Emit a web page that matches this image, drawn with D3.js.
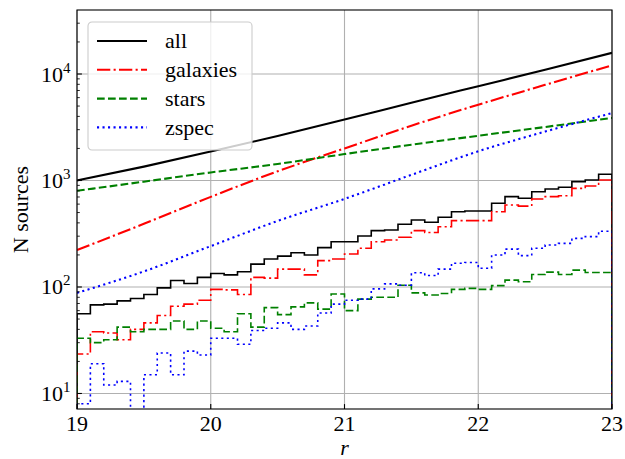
<!DOCTYPE html>
<html>
<head>
<meta charset="utf-8">
<script src="https://cdn.jsdelivr.net/npm/d3@7"></script>
<style>
  body { margin: 0; background: #fff; }
</style>
</head>
<body>
<svg id="chart" width="625" height="459"></svg>
<script>
// Cumulative source counts N(<r), sampled every half magnitude
const curveMags = [19, 19.5, 20, 20.5, 21, 21.5, 22, 22.5, 23];
const cumAll      = [1000, 1350, 1870, 2620, 3730, 5370, 7680, 10970, 15800];
const cumGalaxies = [222, 392, 702, 1220, 2000, 3270, 5150, 7910, 12070];
const cumStars    = [800, 975, 1190, 1430, 1770, 2170, 2630, 3180, 3870];
const cumZspec    = [88, 140, 242, 417, 672, 1130, 1880, 2880, 4300];

// Differential counts in 0.1 mag bins from r = 19 to 23
const binStart = 19, binWidth = 0.1;
const histAll = [56, 68, 69, 74, 78, 85, 98, 115, 108, 123, 134, 130, 139, 164, 183, 195, 210, 200, 234, 266,
                 266, 301, 338, 343, 388, 426, 405, 451, 509, 517, 517, 611, 705, 681, 785, 832, 863, 975, 1011, 1143];
const histGalaxies = [23.5, 38, 37, 32, 40, 46, 54, 66, 69, 75, 95, 94, 85, 123, 121, 147, 147, 130, 177, 183,
                      204, 231, 266, 276, 293, 338, 325, 368, 420, 420, 420, 509, 589, 575, 670, 705, 720, 843, 887, 1011];
const histStars = [33, 30, 32, 42, 38, 40, 40, 48, 40, 48, 41, 38, 56, 42, 64, 55, 65, 71, 62, 86,
                   60, 77, 80, 80, 104, 88, 84, 87, 95, 97, 95, 103, 116, 112, 131, 138, 131, 144, 137, 137];
const histZspec = [8, 19, 12, 13, 0, 15, 24, 15, 25, 23, 33, 33, 29, 39, 41, 46, 40, 43, 57, 69,
                   75, 77, 96, 107, 104, 136, 128, 147, 167, 170, 150, 200, 227, 197, 231, 248, 257, 286, 297, 334];

const seriesNames = ["all", "galaxies", "stars", "zspec"];
const xTicks = [19, 20, 21, 22, 23];
const yTicks = [10, 100, 1000, 10000];

const FONT = '"Liberation Serif", Tinos, "Times New Roman", "DejaVu Serif", "Noto Serif", serif';

// Line styles (pixels)
const styles = {
  all:      { color: "#000000", dash: null },
  galaxies: { color: "#ff0000", dash: "13.3,3.3,2.1,3.3" },
  stars:    { color: "#008000", dash: "7.7,3.3" },
  zspec:    { color: "#0000ff", dash: "2.1,3.4" }
};

const svg = d3.select("#chart");
const margin = { left: 77, top: 10, right: 13, bottom: 50 };
const W = 625 - margin.left - margin.right;   // 535
const H = 459 - margin.top - margin.bottom;   // 399

const x = d3.scaleLinear().domain([19, 23]).range([0, W]);
const y = d3.scaleLog().domain([7.15, 39900]).range([H, 0]);

const g = svg.append("g").attr("transform", `translate(${margin.left},${margin.top})`);

g.append("defs").append("clipPath").attr("id", "plotClip")
  .append("rect").attr("x", 0).attr("y", 0).attr("width", W).attr("height", H);

// Grid
const grid = g.append("g").attr("stroke", "#b0b0b0").attr("stroke-width", 1.1);
xTicks.forEach(t => grid.append("line").attr("x1", x(t)).attr("x2", x(t)).attr("y1", 0).attr("y2", H));
yTicks.forEach(t => grid.append("line").attr("x1", 0).attr("x2", W).attr("y1", y(t)).attr("y2", y(t)));

const plot = g.append("g").attr("clip-path", "url(#plotClip)");

// Smooth cumulative curves
const curveLine = d3.line()
  .x(d => x(d[0]))
  .y(d => y(d[1]))
  .curve(d3.curveMonotoneX);

const cumData = { all: cumAll, galaxies: cumGalaxies, stars: cumStars, zspec: cumZspec };
seriesNames.forEach(name => {
  const pts = curveMags.map((m, i) => [m, cumData[name][i]]);
  plot.append("path")
    .attr("d", curveLine(pts))
    .attr("fill", "none")
    .attr("stroke", styles[name].color)
    .attr("stroke-width", 2.08)
    .attr("stroke-dasharray", styles[name].dash);
});

// Step histograms
const histData = { all: histAll, galaxies: histGalaxies, stars: histStars, zspec: histZspec };
const yVal = v => v > 0 ? y(v) : H + 40;
seriesNames.forEach(name => {
  const vals = histData[name];
  const pts = [[x(binStart), H + 40]];
  vals.forEach((v, i) => {
    const x0 = x(binStart + i * binWidth), x1 = x(binStart + (i + 1) * binWidth);
    pts.push([x0, yVal(v)]);
    pts.push([x1, yVal(v)]);
  });
  pts.push([x(binStart + vals.length * binWidth), H + 40]);
  plot.append("path")
    .attr("d", d3.line()(pts))
    .attr("fill", "none")
    .attr("stroke", styles[name].color)
    .attr("stroke-width", 1.6)
    .attr("stroke-linejoin", "miter")
    .attr("stroke-dasharray", styles[name].dash);
});

// Ticks (pointing inward)
const ticks = g.append("g").attr("stroke", "#000");
xTicks.forEach(t => ticks.append("line").attr("x1", x(t)).attr("x2", x(t))
  .attr("y1", H).attr("y2", H - 4.9).attr("stroke-width", 1.1));
yTicks.forEach(t => ticks.append("line").attr("x1", 0).attr("x2", 4.9)
  .attr("y1", y(t)).attr("y2", y(t)).attr("stroke-width", 1.1));
const [yMin, yMax] = y.domain();
for (let e = 0; e <= 4; e++) {
  for (let k = 2; k <= 9; k++) {
    const v = k * Math.pow(10, e);
    if (v >= yMin && v <= yMax) {
      ticks.append("line").attr("x1", 0).attr("x2", 2.8)
        .attr("y1", y(v)).attr("y2", y(v)).attr("stroke-width", 0.85);
    }
  }
}

// Axes frame
g.append("rect").attr("x", 0).attr("y", 0).attr("width", W).attr("height", H)
  .attr("fill", "none").attr("stroke", "#000").attr("stroke-width", 1.1);

// Tick labels
xTicks.forEach(t => g.append("text")
  .style("font-family", FONT)
  .attr("x", x(t)).attr("y", H + 22)
  .attr("text-anchor", "middle").style("font-size", "22px")
  .text(t));

yTicks.forEach(t => {
  const txt = g.append("text")
    .style("font-family", FONT)
    .attr("x", -6.5).attr("y", y(t) + 7.5)
    .attr("text-anchor", "end").style("font-size", "22px");
  txt.append("tspan").text("10");
  txt.append("tspan").attr("dy", -9).style("font-size", "15px").text(Math.round(Math.log10(t)));
});

// Axis labels
g.append("text")
  .style("font-family", FONT)
  .attr("x", W / 2).attr("y", H + 46)
  .attr("text-anchor", "middle").style("font-size", "22px").style("font-style", "italic")
  .text("r");

svg.append("text")
  .style("font-family", FONT)
  .attr("transform", `translate(28, ${margin.top + H / 2}) rotate(-90)`)
  .attr("text-anchor", "middle").style("font-size", "22px")
  .text("N sources");

// Legend
const legend = g.append("g").attr("transform", "translate(11, 12)");
legend.append("rect")
  .attr("x", 0).attr("y", 0).attr("width", 164).attr("height", 128)
  .attr("rx", 4).attr("ry", 4)
  .attr("fill", "#fff").attr("fill-opacity", 0.8)
  .attr("stroke", "#cccccc").attr("stroke-width", 1.1);
seriesNames.forEach((name, i) => {
  const ry = 19 + i * 28.8;
  legend.append("line")
    .attr("x1", 9).attr("x2", 59).attr("y1", ry).attr("y2", ry)
    .attr("stroke", styles[name].color).attr("stroke-width", 2.08)
    .attr("stroke-dasharray", styles[name].dash);
  legend.append("text")
    .style("font-family", FONT)
    .attr("x", 77).attr("y", ry + 7.3)
    .style("font-size", "22px")
    .text(name);
});
</script>
</body>
</html>
